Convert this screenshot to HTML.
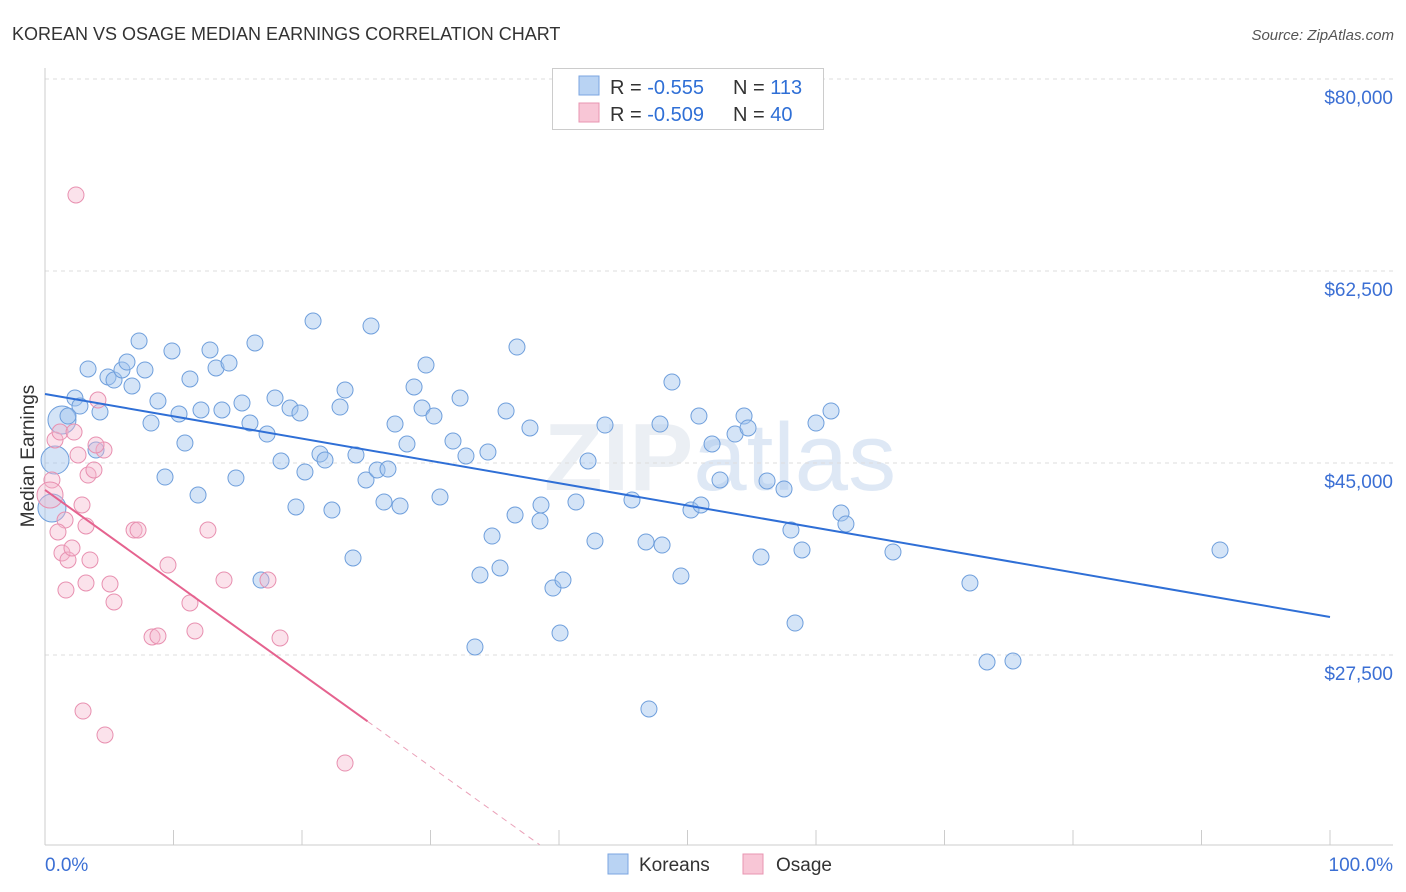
<!DOCTYPE html>
<html><head><meta charset="utf-8"><style>
body{margin:0;background:#fff;font-family:"Liberation Sans",sans-serif;}
svg{display:block}
</style></head><body>
<svg id="chart" width="1406" height="892">
<text x="12" y="40" font-size="18" fill="#333">KOREAN VS OSAGE MEDIAN EARNINGS CORRELATION CHART</text>
<text x="1394" y="40" font-size="15" fill="#555" font-style="italic" text-anchor="end">Source: ZipAtlas.com</text>
<text x="720" y="490" font-size="96" font-weight="bold" fill="#dfe6ee" text-anchor="middle" opacity="0.6">ZIP<tspan fill="#c9daf0" font-weight="normal">atlas</tspan></text>
<g id="grid"></g>
<g id="axes"></g>
<g id="pts"></g>
<g id="trend"></g>
<g>
<rect x="552.5" y="68.5" width="271" height="61" fill="#fff" stroke="#ccc"/>
<rect x="579" y="76" width="20" height="19" fill="#b9d3f3" stroke="#7ba6e0"/>
<rect x="579" y="103" width="20" height="19" fill="#f8c6d6" stroke="#e895b1"/>
<text x="610" y="94" font-size="20" fill="#333">R = <tspan fill="#2f6fd6">-0.555</tspan><tspan x="733">N = </tspan><tspan fill="#2f6fd6">113</tspan></text>
<text x="610" y="121" font-size="20" fill="#333">R = <tspan fill="#2f6fd6">-0.509</tspan><tspan x="733">N = </tspan><tspan fill="#2f6fd6">40</tspan></text>
</g>
<g>
<rect x="608" y="854" width="20" height="20" fill="#b9d3f3" stroke="#7ba6e0"/>
<text x="639" y="871" font-size="19" fill="#333">Koreans</text>
<rect x="743" y="854" width="20" height="20" fill="#f8c6d6" stroke="#e895b1"/>
<text x="776" y="871" font-size="19" fill="#333">Osage</text>
</g>
<text x="45" y="871" font-size="19" fill="#3b6fd4">0.0%</text>
<text x="1393" y="871" font-size="19" fill="#3b6fd4" text-anchor="end">100.0%</text>
<text transform="translate(34,456) rotate(-90)" font-size="19" fill="#333" text-anchor="middle">Median Earnings</text>
</svg>
<script>
const yTicks=[80000,62500,45000,27500];
const yTickLabels=["$80,000","$62,500","$45,000","$27,500"];
const koreanX=[0.54,0.78,1.32,1.79,2.33,2.72,3.35,3.97,4.28,4.90,5.37,5.99,6.38,6.77,7.32,7.78,8.25,8.79,9.34,9.88,10.43,10.89,11.28,11.91,12.14,12.84,13.31,13.77,14.32,14.86,15.33,15.95,16.34,16.81,17.28,17.90,18.37,19.07,19.53,19.84,20.23,20.86,21.40,21.79,22.33,22.96,23.35,23.97,24.20,24.98,25.37,25.84,26.38,26.69,27.24,27.63,28.17,28.72,29.34,29.65,30.27,30.74,31.75,32.30,32.76,33.46,33.85,34.47,34.79,35.41,35.88,36.58,36.73,37.74,38.52,38.60,39.53,40.08,40.31,41.32,42.26,42.80,43.58,45.68,46.77,47.00,47.86,48.02,48.79,49.49,50.27,50.89,51.05,51.91,52.53,53.70,54.40,54.71,55.72,56.19,57.51,58.05,58.37,58.91,60.00,61.17,61.95,62.33,65.99,71.98,73.31,75.33,91.44];
const koreanY=[40900,45270,48920,49280,50920,50190,53570,46180,49650,52840,52560,53480,54200,52020,56120,53480,48640,50650,43720,55210,49470,46820,52660,42080,49830,55300,53660,49830,54110,43630,50470,48640,55940,34330,47640,50920,45180,50010,40990,49560,44180,57940,45820,45270,40710,50100,51650,36340,45730,43450,57490,44360,41440,44450,48550,41080,46730,51930,50010,53930,49280,41900,47000,50920,45640,28230,34790,46000,38340,35430,49740,40260,55570,48190,39710,41170,33600,29500,34330,41440,45180,37890,48460,41630,37800,22580,48550,37520,52380,34700,40710,49280,41170,46730,43450,47640,49280,48190,36430,43360,42630,38890,30410,37070,48640,49740,40440,39440,36890,34060,26860,26950,37070];
const osageX=[2.41,0.54,0.39,0.78,1.17,1.56,1.01,1.32,1.79,2.10,1.63,2.57,2.26,2.88,3.19,3.35,3.50,3.81,4.12,4.59,5.06,5.37,6.93,7.24,8.33,8.79,9.57,11.28,11.67,12.68,13.93,17.35,18.29,2.96,4.67,23.35,3.97,3.19];
const osageY=[69430,43450,42080,47100,47820,39800,38710,36800,36160,37250,33420,45730,47820,41170,39260,43900,36160,44360,50740,46180,33970,32330,38890,38890,29140,29230,35700,32240,29690,38890,34330,34330,29050,22390,20210,17650,46640,34060];
const koreanTrend=[51290,30960];
const osageTrend=[42540,21450,10200];
const osageTrendX=[0,25.1,38.5];
const NS="http://www.w3.org/2000/svg";
const xs=p=>45+p*12.85;
const ys=v=>79+(80000-v)/91.15;
function mk(tag,attrs,parent){const e=document.createElementNS(NS,tag);for(const k in attrs)e.setAttribute(k,attrs[k]);document.getElementById(parent).appendChild(e);return e;}
yTicks.forEach((t,i)=>{
 const l=mk('line',{x1:45,x2:1393,y1:ys(t),y2:ys(t),stroke:'#ddd','stroke-dasharray':'4,4'},'grid');
 
 
 const tx=mk('text',{x:1393,y:ys(t)+25,'font-size':19,fill:'#3b6fd4','text-anchor':'end'},'grid');
 tx.textContent=yTickLabels[i];
 
 
});
const ax=mk('line',{x1:45,x2:45,y1:68,y2:845,stroke:'#ccc'},'axes');


const bx=mk('line',{x1:45,x2:1393,y1:845,y2:845,stroke:'#ccc'},'axes');


for(let i=0;i<=10;i++){
 const tk=mk('line',{x1:xs(i*10),x2:xs(i*10),y1:830,y2:845,stroke:'#ccc'},'axes');
 
 
}
koreanX.forEach((x,i)=>{
 const c=mk('circle',{cx:xs(x),cy:ys(koreanY[i]),r:i<3?14:8,fill:'rgba(160,196,238,0.45)',stroke:'#6f9fdc','stroke-width':1},'pts');
 
 
});
osageX.forEach((x,i)=>{
 const c=mk('circle',{cx:xs(x),cy:ys(osageY[i]),r:i==2?13:8,fill:'rgba(246,182,204,0.4)',stroke:'#e890b0','stroke-width':1},'pts');
 
 
});
const kt=mk('line',{x1:xs(0),y1:ys(koreanTrend[0]),x2:xs(100),y2:ys(koreanTrend[1]),stroke:'#2f6fd6','stroke-width':2},'trend');


const ot=mk('line',{x1:xs(osageTrendX[0]),y1:ys(osageTrend[0]),x2:xs(osageTrendX[1]),y2:ys(osageTrend[1]),stroke:'#e5638f','stroke-width':2},'trend');


const od=mk('line',{x1:xs(osageTrendX[1]),y1:ys(osageTrend[1]),x2:xs(osageTrendX[2]),y2:ys(osageTrend[2]),stroke:'#eaa0b8','stroke-width':1,'stroke-dasharray':'6,5'},'trend');


</script>
</body></html>
